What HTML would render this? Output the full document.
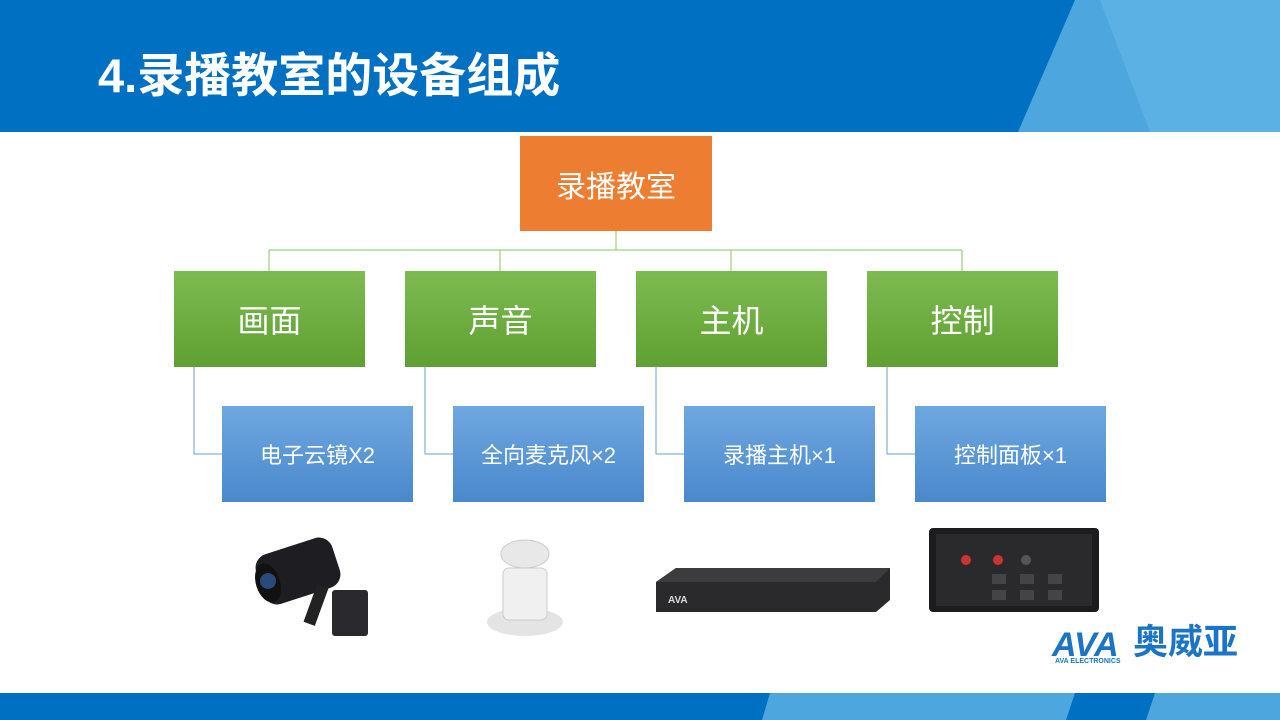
<!DOCTYPE html>
<html><head><meta charset="utf-8"><style>
body{margin:0;width:1280px;height:720px;position:relative;overflow:hidden;background:#fff;font-family:"Liberation Sans","Noto Sans CJK SC",sans-serif}
.a{position:absolute}
.box{position:absolute;color:#fff;display:flex;align-items:center;justify-content:center}
.g{background:linear-gradient(#7dbb50,#5fa032);font-size:32px;width:191px;height:96px;top:271px}
.b{background:linear-gradient(#6fa8e0,#4a88cc);font-size:22px;width:191px;height:96px;top:406px}
</style></head><body>
<svg class="a" style="left:0;top:0" width="1280" height="720">
<rect x="0" y="0" width="1280" height="132" fill="#0070c2"/>
<polygon points="1075,0 1280,0 1280,132 1018,132" fill="#4ea6de"/>
<polygon points="1100,0 1280,0 1280,132 1150,132" fill="#5cb1e4"/>
<rect x="0" y="693" width="1280" height="27" fill="#0070c2"/>
<polygon points="770,693 1075,693 1066,720 762,720" fill="#4ea6de"/>
<polygon points="1155,693 1280,693 1280,720 1146,720" fill="#4ea6de"/>
<g stroke="#8cc26a" stroke-width="1" fill="none">
<line x1="616" y1="231" x2="616" y2="250"/>
<line x1="269" y1="250" x2="962" y2="250"/>
<line x1="269" y1="250" x2="269" y2="271"/><line x1="500" y1="250" x2="500" y2="271"/>
<line x1="731" y1="250" x2="731" y2="271"/><line x1="962" y1="250" x2="962" y2="271"/>
</g>
<g stroke="#6a9fd6" stroke-width="1" fill="none">
<polyline points="194,367 194,454 222,454"/><polyline points="425,367 425,454 453,454"/>
<polyline points="656,367 656,454 684,454"/><polyline points="887,367 887,454 915,454"/>
</g>
<g transform="translate(250,535)">
<rect x="8" y="10" width="80" height="52" rx="14" fill="#1e1e22" transform="rotate(-18 48 36)"/>
<ellipse cx="18" cy="48" rx="12" ry="20" fill="#111" transform="rotate(-18 18 48)"/>
<circle cx="18" cy="46" r="8" fill="#2a4a7a"/>
<rect x="60" y="50" width="12" height="40" fill="#222" transform="rotate(20 66 70)"/>
<rect x="82" y="55" width="36" height="46" rx="3" fill="#2a2a2e"/>
</g>
<g transform="translate(485,540)">
<ellipse cx="40" cy="82" rx="38" ry="14" fill="#e4e4e4"/>
<rect x="18" y="28" width="44" height="52" rx="6" fill="#f0f0f0" stroke="#ccc"/>
<ellipse cx="40" cy="14" rx="24" ry="14" fill="#e8e8e8" stroke="#ccc"/>
</g>
<polygon points="656,582 676,568 890,568 890,600 876,612 656,612" fill="#2a2a2c"/>
<polygon points="656,582 676,568 890,568 876,582" fill="#3c3c3e"/>
<text x="668" y="603" font-size="10" fill="#ddd" font-family="Liberation Sans" font-weight="bold">AVA</text>
<rect x="929" y="528" width="170" height="84" rx="4" fill="#1c1c1e"/>
<rect x="936" y="534" width="156" height="72" fill="#2a2a2c"/>
<g fill="#444"><rect x="992" y="574" width="14" height="10"/><rect x="1020" y="574" width="14" height="10"/><rect x="1048" y="574" width="14" height="10"/>
<rect x="992" y="590" width="14" height="10"/><rect x="1020" y="590" width="14" height="10"/><rect x="1048" y="590" width="14" height="10"/></g>
<circle cx="966" cy="560" r="5" fill="#c33"/><circle cx="998" cy="560" r="5" fill="#c33"/><circle cx="1026" cy="560" r="5" fill="#555"/>
<text x="1052" y="656" font-size="34" font-weight="bold" font-style="italic" fill="#1b75c4" font-family="Liberation Sans">AVA</text>
<text x="1055" y="663" font-size="7" font-weight="bold" fill="#1b75c4" font-family="Liberation Sans">AVA ELECTRONICS</text>
</svg>
<div class="a" style="left:98px;top:48px;font-size:47px;font-weight:bold;color:#fff;line-height:56px">4.录播教室的设备组成</div>
<div class="a" style="left:1133px;top:622px;font-size:35px;color:#1b75c4;font-weight:bold;line-height:42px">奥威亚</div>
<div class="box" style="left:520px;top:136px;width:192px;height:95px;background:#ed7d31;font-size:30px">录播教室</div>
<div class="box g" style="left:174px">画面</div>
<div class="box g" style="left:405px">声音</div>
<div class="box g" style="left:636px">主机</div>
<div class="box g" style="left:867px">控制</div>
<div class="box b" style="left:222px">电子云镜X2</div>
<div class="box b" style="left:453px">全向麦克风×2</div>
<div class="box b" style="left:684px">录播主机×1</div>
<div class="box b" style="left:915px">控制面板×1</div>
</body></html>
